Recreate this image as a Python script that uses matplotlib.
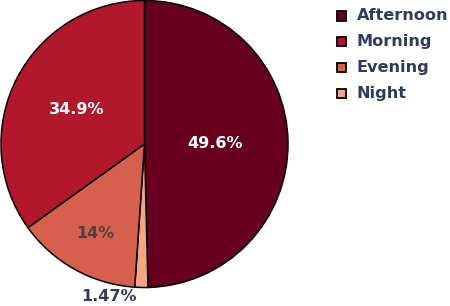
import matplotlib
matplotlib.use("Agg")
import matplotlib.pyplot as plt
from matplotlib.patches import Rectangle
import numpy as np

# slices in drawing order (clockwise from 12 o'clock)
labels = ["Afternoon", "Night", "Evening", "Morning"]
values = [49.6, 1.47, 14.0, 34.9]
pct_text = ["49.6%", "1.47%", "14%", "34.9%"]
colors = ["#67001f", "#f4a582", "#d6604d", "#b2182b"]
text_colors = ["white", "#2a3f5f", "#444444", "white"]
label_r = [0.49, 1.06, 0.71, 0.53]

legend_order = ["Afternoon", "Morning", "Evening", "Night"]

W, H = 450, 306
fig = plt.figure(figsize=(W / 100, H / 100), dpi=100)
ax = fig.add_axes([1 / W, 18.5 / H, 287 / W, 287 / H])

wedges, _ = ax.pie(values, colors=colors, startangle=90, counterclock=False,
                   wedgeprops=dict(edgecolor="black", linewidth=1.1))
ax.set_aspect("equal")
ax.set_xlim(-1.0, 1.0)
ax.set_ylim(-1.0, 1.0)

total = sum(values)
start = 90.0
for i, v in enumerate(values):
    mid = np.deg2rad(start - 360.0 * v / total / 2)
    start -= 360.0 * v / total
    x = label_r[i] * np.cos(mid)
    y = label_r[i] * np.sin(mid)
    if labels[i] == "Night":
        x = -0.25
    ax.text(x, y, pct_text[i], ha="center", va="center", color=text_colors[i],
            fontsize=11.5, fontweight="bold", clip_on=False)

# legend, drawn by hand
for k, name in enumerate(legend_order):
    yc = 16 + 25.7 * k
    fig.patches.append(Rectangle((337 / W, 1 - (yc + 4.5) / H), 9 / W, 9 / H,
                                 transform=fig.transFigure, facecolor=colors[labels.index(name)],
                                 edgecolor="black", linewidth=1.3))
    fig.text(357 / W, 1 - yc / H, name, ha="left", va="center", color="#2a3f5f",
             fontsize=11.6, fontweight="bold")

fig.savefig("out.png", dpi=100)
